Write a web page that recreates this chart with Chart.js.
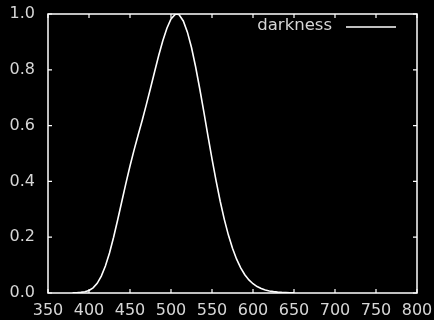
<!DOCTYPE html>
<html>
<head>
<meta charset="utf-8">
<script src="https://cdn.jsdelivr.net/npm/chart.js@4/dist/chart.umd.min.js"></script>
<style>
  html, body { margin: 0; padding: 0; background: #000; }
  #wrap { width: 434px; height: 320px; }
</style>
</head>
<body>
<div id="wrap"><canvas id="chart" width="434" height="320"></canvas></div>
<script>
// wavelength (nm) and relative sensitivity
const wavelengths = [380, 385, 390, 395, 400, 405, 410, 415, 420, 425, 430, 435, 440, 445, 450,
    455, 460, 465, 470, 475, 480, 485, 490, 495, 500, 505, 507, 510, 515, 520, 525, 530, 535,
    540, 545, 550, 555, 560, 565, 570, 575, 580, 585, 590, 595, 600, 605, 610, 615, 620, 625,
    630, 635, 640, 645, 650];
const darkness = [0.0006, 0.0011, 0.0022, 0.0045, 0.0093, 0.0185, 0.0348, 0.0604, 0.0966, 0.1436,
    0.1998, 0.2625, 0.3281, 0.3931, 0.455, 0.513, 0.567, 0.620, 0.676, 0.734, 0.793, 0.851, 0.904,
    0.949, 0.982, 0.998, 1.0, 0.997, 0.975, 0.935, 0.880, 0.811, 0.733, 0.650, 0.564, 0.481, 0.402,
    0.3288, 0.2639, 0.2076, 0.1602, 0.1212, 0.0899, 0.0655, 0.0469, 0.0332, 0.0231, 0.0159, 0.0109,
    0.0074, 0.0050, 0.0033, 0.0022, 0.0015, 0.0010, 0.0007];
const xTicks = [350, 400, 450, 500, 550, 600, 650, 700, 750, 800];
const yTicks = [0.0, 0.2, 0.4, 0.6, 0.8, 1.0];

const fg = '#ffffff';
const textColor = '#d6d6d6';
const font = { family: 'DejaVu Sans', size: 16 };

// gnuplot-like frame: black page, white box, inward ticks on all sides, legend top right
const gnuplotFrame = {
    id: 'gnuplotFrame',
    beforeDraw(chart) {
        const ctx = chart.ctx;
        ctx.save();
        ctx.fillStyle = '#000';
        ctx.fillRect(0, 0, chart.width, chart.height);
        ctx.restore();
    },
    afterDatasetsDraw(chart) {
        const { ctx, chartArea: a, scales } = chart;
        ctx.save();
        ctx.strokeStyle = fg;
        ctx.lineWidth = 1.5;
        ctx.strokeRect(a.left, a.top, a.right - a.left, a.bottom - a.top);
        ctx.lineWidth = 1.2;
        ctx.beginPath();
        xTicks.forEach(v => {
            const x = scales.x.getPixelForValue(v);
            ctx.moveTo(x, a.bottom); ctx.lineTo(x, a.bottom - 4);
            ctx.moveTo(x, a.top); ctx.lineTo(x, a.top + 4);
        });
        yTicks.forEach(v => {
            const y = scales.y.getPixelForValue(v);
            ctx.moveTo(a.left, y); ctx.lineTo(a.left + 4, y);
            ctx.moveTo(a.right, y); ctx.lineTo(a.right - 4, y);
        });
        ctx.stroke();

        // legend
        const label = chart.data.datasets[0].label;
        ctx.font = `16.5px ${font.family}`;
        ctx.fillStyle = textColor;
        ctx.textAlign = 'right';
        ctx.textBaseline = 'middle';
        ctx.fillText(label, 332, 26);
        ctx.strokeStyle = fg;
        ctx.lineWidth = 1.5;
        ctx.beginPath();
        ctx.moveTo(346, 27);
        ctx.lineTo(396, 27);
        ctx.stroke();
        ctx.restore();
    }
};

const noPad = s => { s.paddingTop = 0; s.paddingBottom = 0; s.paddingLeft = 0; s.paddingRight = 0; };

const config = {
    type: 'line',
    data: {
        datasets: [{
            label: 'darkness',
            data: wavelengths.map((w, i) => ({ x: w, y: darkness[i] })),
            borderColor: fg,
            borderWidth: 1.6,
            pointRadius: 0,
            tension: 0,
            fill: false
        }]
    },
    options: {
        responsive: false,
        animation: false,
        layout: { padding: { top: 14, right: 17, left: 0, bottom: 0 } },
        plugins: {
            legend: { display: false },
            tooltip: { enabled: false }
        },
        scales: {
            x: {
                type: 'linear',
                min: 350,
                max: 800,
                afterBuildTicks: s => { s.ticks = xTicks.map(v => ({ value: v })); },
                afterFit: s => { s.height = 27; noPad(s); },
                grid: { display: false, drawTicks: false },
                border: { display: false },
                ticks: {
                    color: textColor,
                    font: font,
                    padding: 8,
                    maxRotation: 0,
                    autoSkip: false
                }
            },
            y: {
                type: 'linear',
                min: 0,
                max: 1,
                afterBuildTicks: s => { s.ticks = yTicks.map(v => ({ value: v })); },
                afterFit: s => { s.width = 48; noPad(s); },
                grid: { display: false, drawTicks: false },
                border: { display: false },
                ticks: {
                    color: textColor,
                    font: font,
                    padding: 13,
                    callback: v => v.toFixed(1)
                }
            }
        }
    },
    plugins: [gnuplotFrame]
};

window.onload = function () {
    const ctx = document.getElementById('chart').getContext('2d');
    window.myChart = new Chart(ctx, config);
};
</script>
</body>
</html>
